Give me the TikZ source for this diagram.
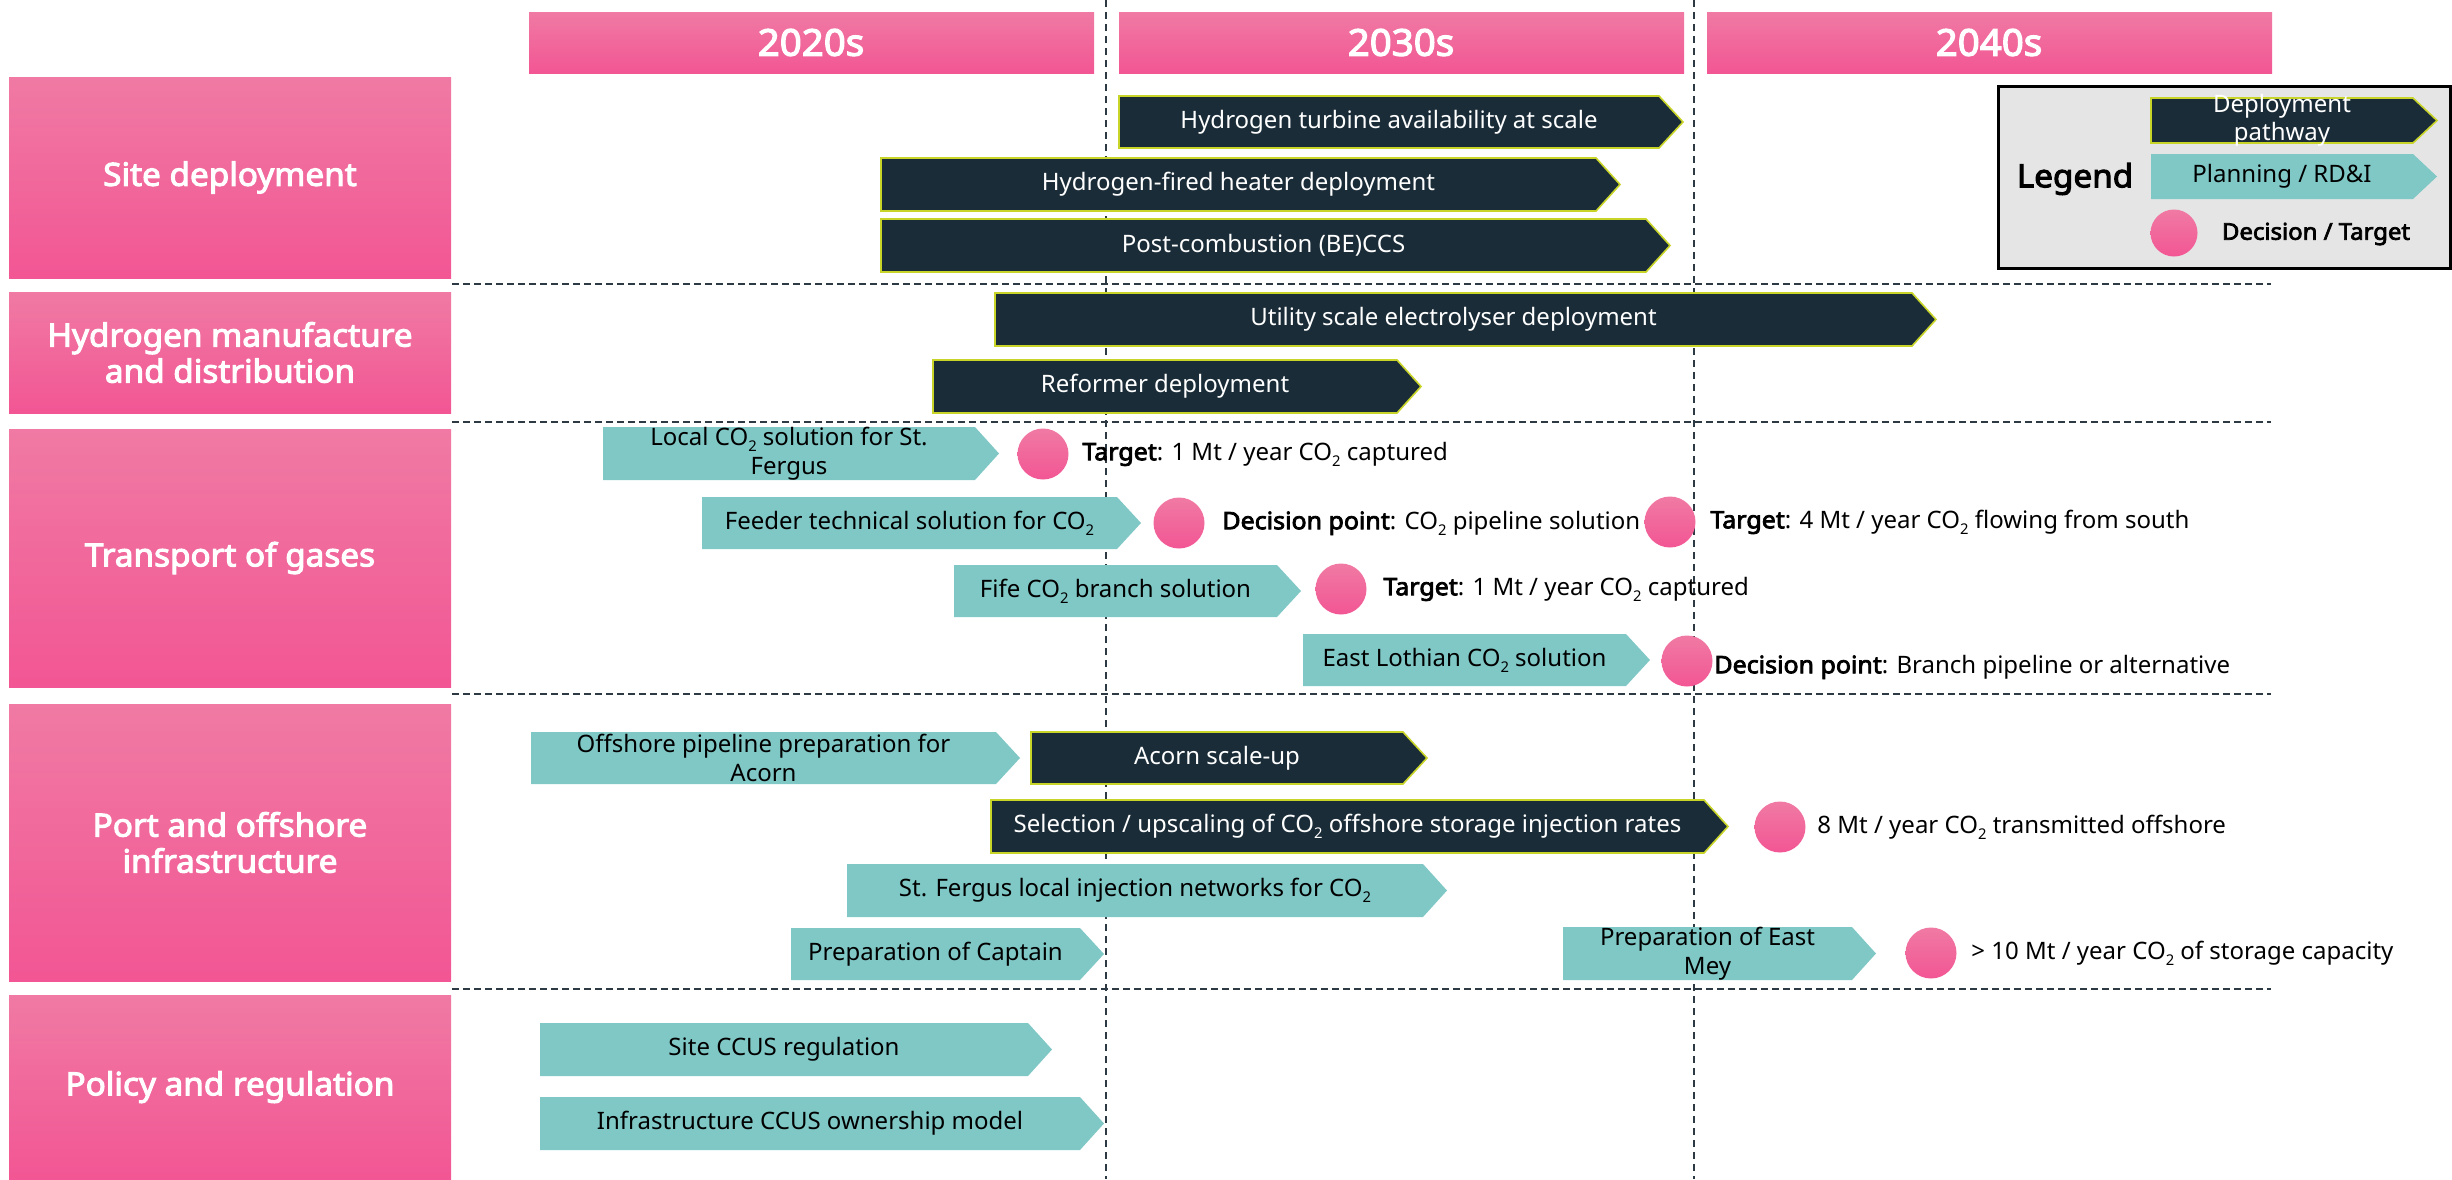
\documentclass[tikz,border=0pt]{standalone}
\usepackage{fontspec}
\setmainfont{Noto Sans}[BoldFont={Noto Sans},BoldFeatures={FakeBold=3.2,FakeStretch=1.04}]
\usetikzlibrary{positioning}

\definecolor{pinktop}{RGB}{240,122,163}
\definecolor{pinkbot}{RGB}{242,86,148}
\definecolor{deepnavy}{RGB}{26,44,56}
\definecolor{limeedge}{RGB}{200,212,40}
\definecolor{tealbar}{RGB}{128,200,198}
\definecolor{gridgray}{RGB}{45,58,68}

\newcommand{\cotwo}{CO\raisebox{-0.45ex}{\fontsize{7.4}{8}\selectfont 2}}
\newcommand{\barfont}{\fontsize{12}{14.2}\selectfont}

% chevron bar: name, style, x start, x end of body, y top, y bottom, text
\newcommand{\chev}[7]{%
  \path[#2] (#3,#5) -- (#4,#5) -- ++(24,{(#6-#5)/2}) -- (#4,#6) -- (#3,#6) -- cycle;
  \node[#2 text] (#1) at ({(#3+#4)/2},{(#5+#6)/2}) {#7};}

\tikzset{
  deploy/.style={fill=deepnavy,draw=limeedge,line width=0.8pt},
  plan/.style={fill=tealbar},
  deploy text/.style={text=white,font=\barfont,align=center},
  plan text/.style={text=black,font=\barfont,align=center},
  pinkfill/.style={top color=pinktop,bottom color=pinkbot},
  headtext/.style={text=white,font=\bfseries\fontsize{18.5}{22}\selectfont},
  rowtext/.style={text=white,font=\bfseries\fontsize{16}{18}\selectfont,align=center},
  milestone/.style={circle,pinkfill,minimum size=25.5pt,inner sep=0pt},
  mtext/.style={anchor=west,inner sep=0pt,font=\barfont},
  vgrid/.style={gridgray,line width=1pt,dash pattern=on 3.5pt off 2.5pt},
  hgrid/.style={gridgray,line width=1pt,dash pattern=on 3.5pt off 2pt}
}

\begin{document}
\begin{tikzpicture}[x=0.5pt,y=-0.5pt]
\useasboundingbox (0,0) rectangle (2452,1179);
% Decade grid
\draw[vgrid] (1106,0) -- (1106,1179);
\draw[vgrid] (1694,0) -- (1694,1179);
\foreach \y in {284,422,694,989}
  \draw[hgrid] (452,\y) -- (2271,\y);
% Decade headers
\foreach \x/\lab in {529/2020s,1119/2030s,1707/2040s}{
  \shade[pinkfill] (\x,12) rectangle ++(565,61);
  \node[headtext] (h\lab) at (\x+282,42.5) {\lab};
}
% Row headers
\foreach \ya/\yb/\nm/\lab in {77/278/site/{Site deployment},
    292/413/hydro/{Hydrogen manufacture\\and distribution},
    429/687/trans/{Transport of gases},
    704/981/port/{Port and offshore\\infrastructure},
    995/1179/policy/{Policy and regulation}}{
  \shade[pinkfill] (9,\ya) rectangle (451,\yb);
  \node[rowtext] (r\nm) at (230,{(\ya+\yb)/2}) {\lab};
}
% Site deployment
\chev{turbine}{deploy}{1119}{1659}{96}{148}{Hydrogen turbine availability at scale}
\chev{heater}{deploy}{881}{1596}{158}{211}{Hydrogen-fired heater deployment}
\chev{postcomb}{deploy}{881}{1646}{219}{272}{Post-combustion (BE)CCS}
% Hydrogen manufacture
\chev{electro}{deploy}{995}{1912}{293}{346}{Utility scale electrolyser deployment}
\chev{reformer}{deploy}{933}{1397}{360}{413}{Reformer deployment}
% Transport of gases
\chev{localco}{plan}{603}{975}{427}{480}{Local \cotwo{} solution for St.\\Fergus}
\chev{feeder}{plan}{702}{1117}{497}{549}{Feeder technical solution for \cotwo}
\chev{fife}{plan}{954}{1277}{565}{617}{Fife \cotwo{} branch solution}
\chev{lothian}{plan}{1303}{1626}{634}{686}{East Lothian \cotwo{} solution}
\node[milestone] (m1) at (1043,454) {};
\node[mtext] (t1) at (1082,454) {\textbf{Target}: 1 Mt / year \cotwo{} captured};
\node[milestone] (m2) at (1179,523) {};
\node[mtext] (t2) at (1222,523) {\textbf{Decision point}: \cotwo{} pipeline solution};
\node[milestone] (m3) at (1670,522) {};
\node[mtext] (t3) at (1710,522) {\textbf{Target}: 4 Mt / year \cotwo{} flowing from south};
\node[milestone] (m4) at (1341,589) {};
\node[mtext] (t4) at (1383,589) {\textbf{Target}: 1 Mt / year \cotwo{} captured};
\node[milestone] (m5) at (1687,661) {};
\node[mtext] (t5) at (1714,667) {\textbf{Decision point}: Branch pipeline or alternative};
% Port and offshore
\chev{offpipe}{plan}{531}{996}{732}{784}{Offshore pipeline preparation for\\Acorn}
\chev{acorn}{deploy}{1031}{1403}{732}{784}{Acorn scale-up}
\chev{storage}{deploy}{991}{1704}{800}{853}{Selection / upscaling of \cotwo{} offshore storage injection rates}
\chev{fergusnet}{plan}{847}{1423}{864}{917}{St. Fergus local injection networks for \cotwo}
\chev{captain}{plan}{791}{1080}{928}{980}{Preparation of Captain}
\chev{eastmey}{plan}{1563}{1852}{927}{980}{Preparation of East\\Mey}
\node[milestone] (m6) at (1780,827) {};
\node[mtext] (t6) at (1817,827) {8 Mt / year \cotwo{} transmitted offshore};
\node[milestone] (m7) at (1931,953) {};
\node[mtext] (t7) at (1971,953) {> 10 Mt / year \cotwo{} of storage capacity};
% Policy
\chev{siteccus}{plan}{540}{1028}{1023}{1076}{Site CCUS regulation}
\chev{ownership}{plan}{540}{1080}{1097}{1150}{Infrastructure CCUS ownership model}
% Legend
\draw[line width=1.5pt,fill=black!10] (1998,86) rectangle (2450,268);
\node[font=\bfseries\fontsize{16}{18}\selectfont] (legtitle) at (2075,179) {Legend};
\chev{legdeploy}{deploy}{2151}{2413}{98}{143}{Deployment\\pathway}
\chev{legplan}{plan}{2151}{2413}{154}{199}{Planning / RD\&I}
\node[milestone,minimum size=23.5pt] (legm) at (2174,233) {};
\node[font=\bfseries\fontsize{11.5}{14}\selectfont] (legdec) at (2316,234) {Decision / Target};
\end{tikzpicture}
\end{document}
